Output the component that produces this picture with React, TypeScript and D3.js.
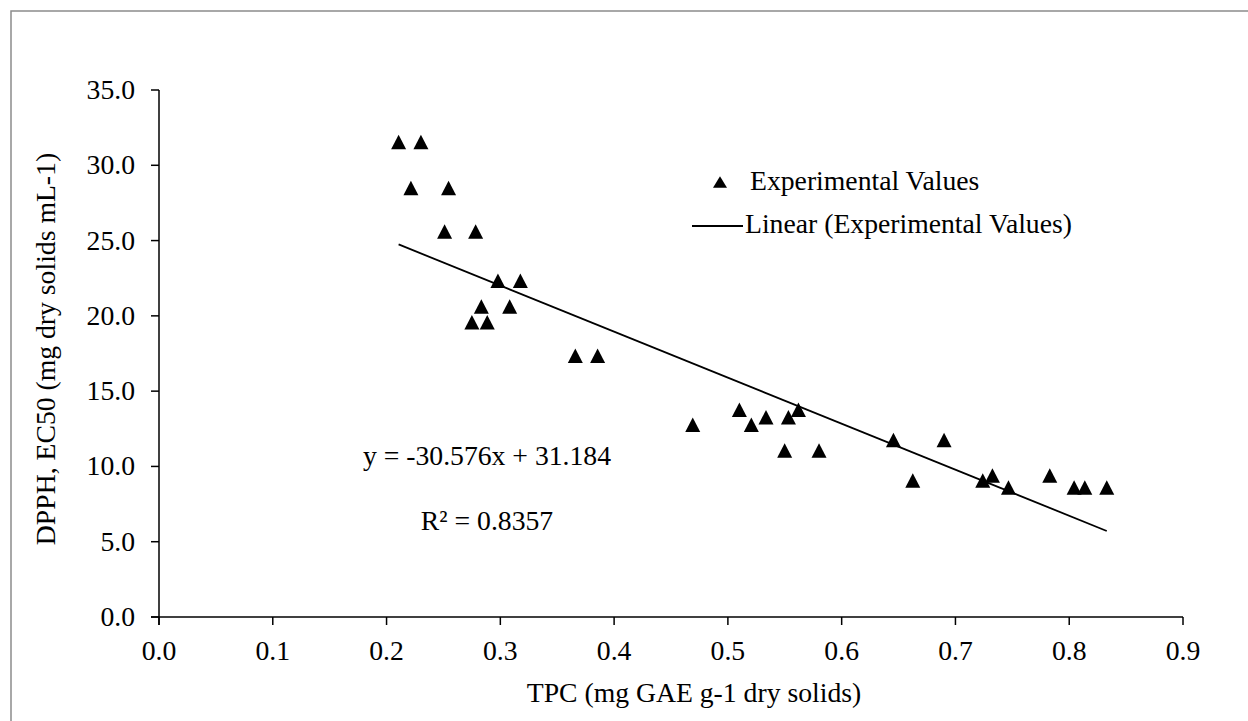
import React, { useEffect } from "react";
import * as d3 from "d3";

const tpc = [
  0.2106, 0.2302, 0.2214, 0.2545, 0.251, 0.2783, 0.2979, 0.3176, 0.2833, 0.3082,
  0.275, 0.2885, 0.3659, 0.3855, 0.4691, 0.5101, 0.5206, 0.5335, 0.5532, 0.562,
  0.5499, 0.5801, 0.6455, 0.69, 0.6625, 0.724, 0.7325, 0.7829, 0.7466, 0.8043,
  0.8137, 0.833,
];
const dpph = [
  31.55, 31.55, 28.49, 28.49, 25.6, 25.6, 22.33, 22.33, 20.62, 20.62,
  19.57, 19.57, 17.35, 17.35, 12.76, 13.77, 12.76, 13.27, 13.27, 13.77,
  11.05, 11.05, 11.76, 11.76, 9.06, 9.06, 9.39, 9.39, 8.6, 8.6,
  8.6, 8.6,
];
const xTicks = [0, 0.1, 0.2, 0.3, 0.4, 0.5, 0.6, 0.7, 0.8, 0.9];
const yTicks = [0, 5, 10, 15, 20, 25, 30, 35];
const slope = -30.576;
const intercept = 31.184;
const eqText = "y = -30.576x + 31.184";
const r2Text = "R² = 0.8357";
const xTitle = "TPC (mg GAE g-1 dry solids)";
const yTitle = "DPPH, EC50 (mg dry solids mL-1)";
const legendLabels = ["Experimental Values", "Linear (Experimental Values)"];

const FONT = "'Liberation Serif', 'Times New Roman', serif";
const FS = 27.7;

export default function App() {
  useEffect(() => {
    document.body.style.margin = "0";
  }, []);

  const x = d3.scaleLinear().domain([0, 0.9]).range([159, 1183]);
  const y = d3.scaleLinear().domain([0, 35]).range([617, 90]);

  const tri = (w: number, h: number) =>
    `M0,${-h / 2}L${w / 2},${h / 2}L${-w / 2},${h / 2}Z`;

  const xMin = d3.min(tpc) as number;
  const xMax = d3.max(tpc) as number;
  const line = d3
    .line<number>()
    .x((d) => x(d))
    .y((d) => y(slope * d + intercept));

  return (
    <svg width={1248} height={721} style={{ display: "block", background: "#fff" }} fontFamily={FONT}>
      <rect x={11} y={11} width={1400} height={900} fill="#fff" stroke="#8c8c8c" strokeWidth={1.5} />
      {/* axes */}
      <line x1={x(0)} x2={x(0)} y1={y(35)} y2={y(0) + 8} stroke="#000" strokeWidth={1.5} />
      <line x1={x(0) - 8} x2={x(0.9)} y1={y(0)} y2={y(0)} stroke="#000" strokeWidth={1.5} />
      {xTicks.map((t) => (
        <g key={"x" + t}>
          <line x1={x(t)} x2={x(t)} y1={y(0)} y2={y(0) + 8} stroke="#000" strokeWidth={1.5} />
          <text x={x(t)} y={660} textAnchor="middle" fontSize={FS} fill="#000">
            {t.toFixed(1)}
          </text>
        </g>
      ))}
      {yTicks.map((t) => (
        <g key={"y" + t}>
          <line x1={x(0) - 8} x2={x(0)} y1={y(t)} y2={y(t)} stroke="#000" strokeWidth={1.5} />
          <text x={135} y={y(t) + 9} textAnchor="end" fontSize={FS} fill="#000">
            {t.toFixed(1)}
          </text>
        </g>
      ))}
      <text x={694} y={702} textAnchor="middle" fontSize={FS} fill="#000">
        {xTitle}
      </text>
      <text
        transform={`translate(55,349) rotate(-90)`}
        textAnchor="middle"
        fontSize={FS}
        fill="#000"
      >
        {yTitle}
      </text>
      {/* trendline */}
      <path d={line([xMin, xMax]) || ""} stroke="#000" strokeWidth={1.8} fill="none" />
      {/* points */}
      {tpc.map((v, i) => (
        <path key={i} d={tri(15, 14.5)} transform={`translate(${x(v)},${y(dpph[i])})`} fill="#000" />
      ))}
      {/* equation */}
      <text x={487} y={465} textAnchor="middle" fontSize={FS} fill="#000">
        {eqText}
      </text>
      <text x={487} y={530} textAnchor="middle" fontSize={FS} fill="#000">
        {r2Text}
      </text>
      {/* legend */}
      <path d={tri(14, 11.5)} transform="translate(720,182)" fill="#000" />
      <text x={750} y={190} fontSize={FS} fill="#000">
        {legendLabels[0]}
      </text>
      <line x1={692} x2={743} y1={226} y2={226} stroke="#000" strokeWidth={1.8} />
      <text x={745} y={233} fontSize={FS} fill="#000">
        {legendLabels[1]}
      </text>
    </svg>
  );
}
